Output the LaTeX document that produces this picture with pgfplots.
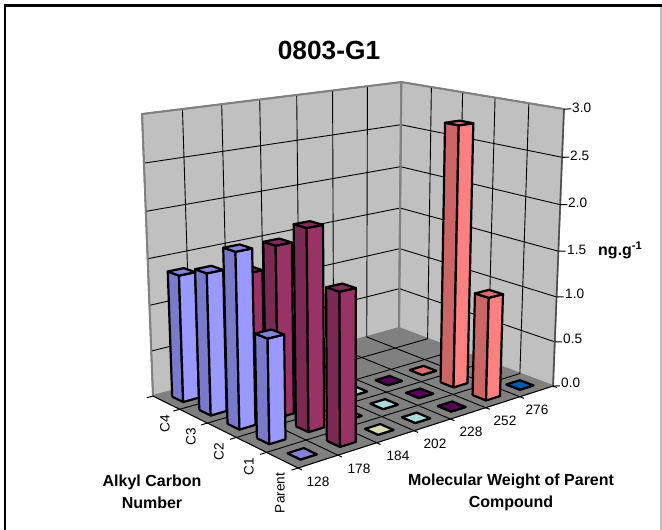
\documentclass[border=0pt]{standalone}
\usepackage{fontspec}
\setmainfont{Liberation Sans}
\usepackage{pgfplots}
\usepackage{pgfplotstable}
\pgfplotsset{compat=1.18}
\definecolor{wallc}{HTML}{C0C0C0}
\definecolor{floorc}{HTML}{808080}
\definecolor{edgec}{HTML}{808080}
\definecolor{sA}{HTML}{9999FF}
\definecolor{sB}{HTML}{993366}
\definecolor{sC}{HTML}{FFFFCC}
\definecolor{sD}{HTML}{CCFFFF}
\definecolor{sE}{HTML}{660066}
\definecolor{sF}{HTML}{FF8080}
\definecolor{sG}{HTML}{0066CC}
% Perspective of the chart box. Data coordinates: mw = category position 0..7,
% alk = category position 0..5, ng = value 0..3
\pgfmathdeclarefunction{pxf}{3}{\pgfmathparse{(298+318.3*(#1)/7-128.45*(#2)/5-20.4*(#3)/3)/(1+0.1144*(#1)/7+0.1082*(#2)/5-0.0578*(#3)/3)}}
\pgfmathdeclarefunction{pyf}{3}{\pgfmathparse{(468-37.8*(#1)/7-29.15*(#2)/5+(#3)/3*(-328.6+13.6*(#1)/7+9.5*(#2)/5))/(1+0.1144*(#1)/7+0.1082*(#2)/5-0.0578*(#3)/3)}}
\newcommand\boxline[2]{\addplot[forget plot,no markers,#1] table[row sep=\\,x expr={pxf(\thisrow{a},\thisrow{b},\thisrow{c})},y expr={pyf(\thisrow{a},\thisrow{b},\thisrow{c})}] {a b c\\ #2};}
\def\hd{0.205}
% one face of a tower: #1 fill, #2 mw index, #3 alkyl index, #4 value, #5 rows s t u
\newcommand\towerface[5]{%
 \addplot[forget plot,no markers,fill=#1,draw=black,line width=2.2pt,line join=round]
  table[row sep=\\,x expr={pxf(#2+0.5+\thisrow{s}*\hd,#3+0.5+\thisrow{t}*\hd,\thisrow{u}*#4)},
        y expr={pyf(#2+0.5+\thisrow{s}*\hd,#3+0.5+\thisrow{t}*\hd,\thisrow{u}*#4)}] {s t u\\ #5};}
\newcommand\tower[4]{% #1 mw, #2 alkyl, #3 value, #4 base colour
 \towerface{#4!80!black}{#1}{#2}{#3}{-1 1 0\\ -1 -1 0\\ -1 -1 1\\ -1 1 1\\ -1 1 0\\}%
 \towerface{#4}{#1}{#2}{#3}{-1 -1 0\\ 1 -1 0\\ 1 -1 1\\ -1 -1 1\\ -1 -1 0\\}%
 \towerface{#4!85!black}{#1}{#2}{#3}{-1 -1 1\\ 1 -1 1\\ 1 1 1\\ -1 1 1\\ -1 -1 1\\}%
}
\newcommand\series[3]{% #1 mw index, #2 table, #3 colour
 \pgfplotstablegetrowsof{#2}\pgfmathtruncatemacro\nr{\pgfplotsretval-1}%
 \foreach \r in {0,...,\nr}{%
  \pgfplotstablegetelem{\r}{alk}\of{#2}\let\aa\pgfplotsretval
  \pgfplotstablegetelem{\r}{ng}\of{#2}\let\vv\pgfplotsretval
  \tower{#1}{\aa}{\vv}{#3}%
 }}
% values per molecular weight; alk: 0 Parent, 1 C1, 2 C2, 3 C3, 4 C4 (back to front)
\pgfplotstableread{
alk ng
0 0
}\mwSeventySix
\pgfplotstableread{
alk ng
2 0
1 2.84
0 1.12
}\mwTwoFiveTwo
\pgfplotstableread{
alk ng
2 0
1 0
0 0
}\mwTwoTwoEight
\pgfplotstableread{
alk ng
2 0
1 0
0 0
}\mwTwoOhTwo
\pgfplotstableread{
alk ng
1 0
0 0
}\mwOneEightFour
\pgfplotstableread{
alk ng
3 1.41
2 1.80
1 2.07
0 1.55
}\mwOneSevenEight
\pgfplotstableread{
alk ng
4 1.37
3 1.50
2 1.82
1 1.07
0 0
}\mwOneTwoEight
\begin{document}
\begin{tikzpicture}
\useasboundingbox (0,0) rectangle (662pt,530pt);
\begin{axis}[at={(0,0)},anchor=south west,scale only axis,width=662pt,height=530pt,
  xmin=0,xmax=662,ymin=0,ymax=530,y dir=reverse,hide axis,clip=false]
% border
\addplot[forget plot,no markers,draw=black!25,line width=1.2pt] coordinates {(661,5.5)(661,530)};
\addplot[forget plot,no markers,draw=black,line width=2.1pt] coordinates {(5,530)(5,5.5)(662,5.5)};
% walls
\boxline{fill=wallc,draw=edgec,line width=1.8pt,line join=round}{0 5 0\\ 7 5 0\\ 7 5 3\\ 0 5 3\\ 0 5 0\\}
\boxline{fill=wallc,draw=edgec,line width=1.8pt,line join=round}{7 5 0\\ 7 0 0\\ 7 0 3\\ 7 5 3\\ 7 5 0\\}
% floor
\boxline{fill=floorc,draw=edgec,line width=1pt,line join=round}{0 0 0\\ 7 0 0\\ 7 5 0\\ 0 5 0\\ 0 0 0\\}
% grid on walls (value levels)
\pgfplotsinvokeforeach{0.5,1,1.5,2,2.5}{
 \boxline{draw=black,line width=0.9pt}{0 5 #1\\ 7 5 #1\\ 7 0 #1\\}
}
\pgfplotsinvokeforeach{1,2,3,4,5,6}{
 \boxline{draw=black,line width=0.9pt}{#1 5 0\\ #1 5 3\\}
 \boxline{draw=black,line width=0.9pt}{#1 0 0\\ #1 5 0\\}
}
\pgfplotsinvokeforeach{1,2,3,4}{
 \boxline{draw=black,line width=0.9pt}{7 #1 0\\ 7 #1 3\\}
 \boxline{draw=black,line width=0.9pt}{0 #1 0\\ 7 #1 0\\}
}
% wall and box edges over the grid
\boxline{draw=edgec,line width=1.8pt}{0 5 0\\ 0 5 3\\ 7 5 3\\ 7 0 3\\}
\boxline{draw=edgec,line width=2pt}{7 5 0\\ 7 5 3\\}
\boxline{draw=black!70,line width=1.4pt}{7 0 0\\ 7 0 3\\}
% axis edges with ticks
\boxline{draw=black,line width=1pt}{0 5 0\\ 0 0 0\\ 7 0 0\\}
\pgfplotsinvokeforeach{0,1,2,3,4,5,6,7}{
 \boxline{draw=black,line width=1pt}{#1 0 0\\ #1 -0.12 0\\}
}
\pgfplotsinvokeforeach{0,1,2,3,4,5}{
 \boxline{draw=black,line width=1pt}{0 #1 0\\ -0.16 #1 0\\}
}
\pgfplotsinvokeforeach{0,0.5,1,1.5,2,2.5,3}{
 \boxline{draw=black,line width=1pt}{7 0 #1\\ 7.12 -0.09 #1\\}
}
% bars, far to near
\series{6}{\mwSeventySix}{sG}
\series{5}{\mwTwoFiveTwo}{sF}
\series{4}{\mwTwoTwoEight}{sE}
\series{3}{\mwTwoOhTwo}{sD}
\series{2}{\mwOneEightFour}{sC}
\series{1}{\mwOneSevenEight}{sB}
\series{0}{\mwOneTwoEight}{sA}
% text
\node[font=\bfseries\fontsize{26.3}{30}\selectfont] at (axis cs:329,50) {0803-G1};
\begin{scope}[every node/.style={font=\fontsize{13.6}{15}\selectfont,inner sep=0pt}]
\node at (axis cs:318,482) {128};
\node at (axis cs:359,469) {178};
\node at (axis cs:398,456) {184};
\node at (axis cs:435,444) {202};
\node at (axis cs:471,432) {228};
\node at (axis cs:505,421) {252};
\node at (axis cs:537,410) {276};
\node[rotate=90] at (axis cs:280,493) {Parent};
\node[rotate=90] at (axis cs:249,467) {C1};
\node[rotate=90] at (axis cs:219,452) {C2};
\node[rotate=90] at (axis cs:191,437) {C3};
\node[rotate=90] at (axis cs:165,424) {C4};
\node[anchor=west] at (axis cs:572,108) {3.0};
\node[anchor=west] at (axis cs:570,156) {2.5};
\node[anchor=west] at (axis cs:568,203) {2.0};
\node[anchor=west] at (axis cs:567,250) {1.5};
\node[anchor=west] at (axis cs:565,294) {1.0};
\node[anchor=west] at (axis cs:563,339) {0.5};
\node[anchor=west] at (axis cs:561,383) {0.0};
\end{scope}
\begin{scope}[every node/.style={font=\bfseries\fontsize{16}{22}\selectfont,align=center,inner sep=0pt}]
\node at (axis cs:152,492) {Alkyl Carbon\\Number};
\node at (axis cs:511,492) {Molecular Weight of Parent\\Compound};
\node[anchor=west] at (axis cs:598,250) {ng.g\textsuperscript{-1}};
\end{scope}
\end{axis}
\end{tikzpicture}
\end{document}
